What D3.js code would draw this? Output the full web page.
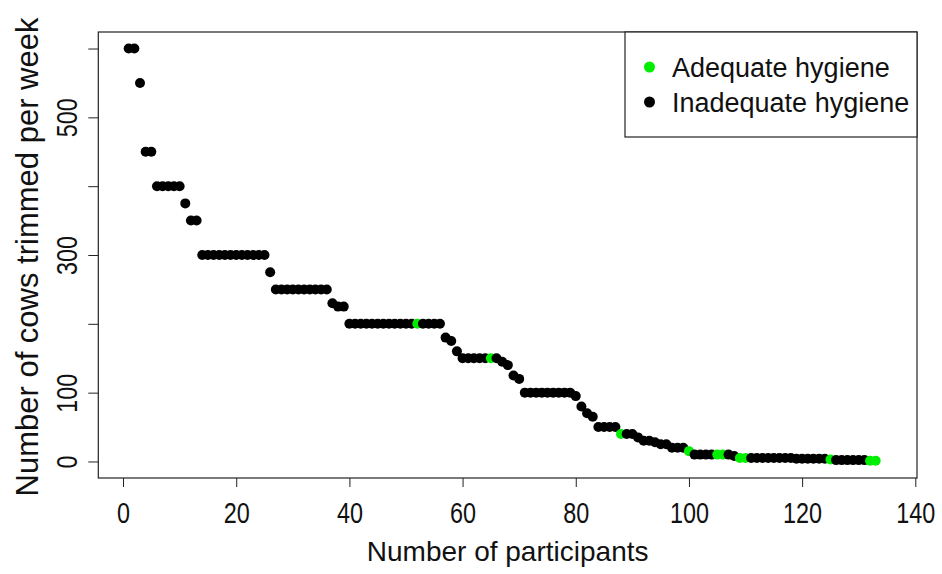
<!DOCTYPE html>
<html>
<head>
<meta charset="utf-8">
<script src="https://cdn.jsdelivr.net/npm/d3@7"></script>
<style>
  body { margin: 0; background: #fff; }
  svg { display: block; font-family: "Liberation Sans", Arial, sans-serif; }
</style>
</head>
<body>
<div id="chart"></div>
<script>
// cows trimmed per week, one value per participant (participants 1..133, sorted)
const cowsTrimmed = [
  600, 600, 550, 450, 450, 400, 400, 400, 400, 400,
  375, 350, 350, 300, 300, 300, 300, 300, 300, 300,
  300, 300, 300, 300, 300, 275, 250, 250, 250, 250,
  250, 250, 250, 250, 250, 250, 230, 225, 225, 200,
  200, 200, 200, 200, 200, 200, 200, 200, 200, 200,
  200, 200, 200, 200, 200, 200, 180, 175, 160, 150,
  150, 150, 150, 150, 150, 150, 145, 140, 125, 120,
  100, 100, 100, 100, 100, 100, 100, 100, 100, 95,
  80, 70, 65, 50, 50, 50, 50, 40, 40, 40,
  35, 30, 30, 28, 25, 25, 20, 20, 20, 15,
  10, 10, 10, 10, 10, 10, 10, 8, 5, 5,
  5, 5, 5, 5, 5, 5, 5, 5, 4, 4,
  4, 4, 4, 4, 3, 2, 2, 2, 2, 2,
  2, 1, 1
];
// participants with adequate hygiene
const adequateParticipants = [52, 65, 88, 100, 105, 106, 109, 110, 125, 132, 133];

const xTicks = [0, 20, 40, 60, 80, 100, 120, 140];
const yTicks = [0, 100, 200, 300, 400, 500, 600];
const yTickLabels = [0, 100, 300, 500];

const legendItems = ["Adequate hygiene", "Inadequate hygiene"];
const green = "#00ee00";
const black = "#000000";

const width = 942, height = 574;
const plotLeft = 98.3, plotRight = 917, plotTop = 32, plotBottom = 478;

const points = cowsTrimmed.map((v, i) => ({
    participant: i + 1,
    cows: v,
    adequate: adequateParticipants.includes(i + 1)
}));

const svg = d3.select("#chart")
    .append("svg")
    .attr("width", width)
    .attr("height", height);

const x = d3.scaleLinear().domain([-4.37, 140.3]).range([plotLeft, plotRight]);
const y = d3.scaleLinear().domain([-24, 624]).range([plotBottom, plotTop]);

// points
svg.append("g")
    .selectAll("circle")
    .data(points)
    .join("circle")
    .attr("cx", d => x(d.participant))
    .attr("cy", d => y(d.cows))
    .attr("r", 5)
    .attr("fill", d => d.adequate ? green : black);

// x axis (tick labels are condensed in the original)
const xAxis = svg.append("g")
    .attr("transform", `translate(0,${plotBottom})`)
    .call(d3.axisBottom(x).tickValues(xTicks).tickSize(9).tickSizeOuter(0));
xAxis.select(".domain").remove();
xAxis.selectAll("line").attr("stroke", "#222");
xAxis.selectAll("text")
    .attr("transform", "translate(0,45) scale(0.78,1)")
    .attr("y", 0)
    .attr("dy", 0)
    .attr("font-size", 30)
    .attr("fill", "#111");

// y axis
const yAxis = svg.append("g")
    .attr("transform", `translate(${plotLeft},0)`)
    .call(d3.axisLeft(y).tickValues(yTicks).tickSize(10).tickSizeOuter(0)
        .tickFormat(d => yTickLabels.includes(d) ? d : ""));
yAxis.select(".domain").remove();
yAxis.selectAll("line").attr("stroke", "#222");
yAxis.selectAll("text")
    .attr("transform", "rotate(-90) translate(0,-21) scale(0.78,1)")
    .attr("text-anchor", "middle")
    .attr("x", 0)
    .attr("y", 0)
    .attr("dy", 0)
    .attr("font-size", 30)
    .attr("fill", "#111");

// plot box
svg.append("rect")
    .attr("x", plotLeft)
    .attr("y", plotTop)
    .attr("width", plotRight - plotLeft)
    .attr("height", plotBottom - plotTop)
    .attr("fill", "none")
    .attr("stroke", "#222")
    .attr("stroke-width", 1.2);

// axis titles
svg.append("text")
    .attr("x", (plotLeft + plotRight) / 2)
    .attr("y", 561)
    .attr("text-anchor", "middle")
    .attr("font-size", 28)
    .attr("fill", "#111")
    .text("Number of participants");

svg.append("text")
    .attr("transform", `translate(38,${(plotTop + plotBottom) / 2 + 2}) rotate(-90)`)
    .attr("text-anchor", "middle")
    .attr("font-size", 31)
    .attr("fill", "#111")
    .text("Number of cows trimmed per week");

// legend
const legend = svg.append("g");
legend.append("rect")
    .attr("x", 625)
    .attr("y", plotTop)
    .attr("width", plotRight - 625)
    .attr("height", 105)
    .attr("fill", "#fff")
    .attr("stroke", "#222")
    .attr("stroke-width", 1.2);

legendItems.forEach((label, i) => {
    const cy = 67 + i * 35;
    legend.append("circle")
        .attr("cx", 649.5)
        .attr("cy", cy)
        .attr("r", 5.5)
        .attr("fill", i === 0 ? green : black);
    legend.append("text")
        .attr("x", 672)
        .attr("y", cy + 10)
        .attr("font-size", 27)
        .attr("fill", "#111")
        .text(label);
});
</script>
</body>
</html>
